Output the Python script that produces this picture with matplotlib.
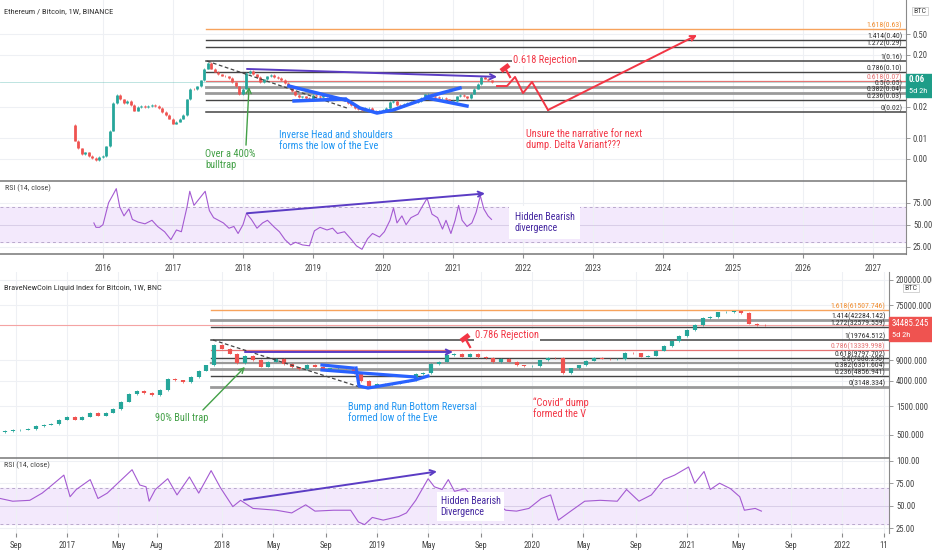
import numpy as np
import matplotlib
matplotlib.use('Agg')
import matplotlib.pyplot as plt
from matplotlib import font_manager
from matplotlib.lines import Line2D
from matplotlib.patches import Rectangle

W, H = 932, 550

# narrow font if there is one, else DejaVu
names = {f.name for f in font_manager.fontManager.ttflist}
fam = 'DejaVu Sans'
for cand in ['Liberation Sans Narrow', 'DejaVu Sans Condensed', 'Roboto Condensed', 'Liberation Sans']:
    if cand in names:
        fam = cand
        break
plt.rcParams['font.family'] = [fam, 'DejaVu Sans']

# ---------------- data ----------------
# ETH/BTC closes, every 0.05 year from 2015.60
eth_start = 2015.60
eth_first_open = 0.0090
eth_close = [
    0.0045, 0.0032, 0.0025, 0.0027, 0.0023, 0.0021, 0.0019, 0.0022,
    0.0023, 0.0035, 0.0070, 0.0240, 0.0340, 0.0280, 0.0240, 0.0260, 0.0220, 0.0170,
    0.0200, 0.0210, 0.0200, 0.0210, 0.0220, 0.0210, 0.0190, 0.0160, 0.0140, 0.0120,
    0.0095, 0.0105, 0.0120, 0.0140, 0.0280, 0.0450, 0.0440, 0.0500, 0.0650, 0.1100,
    0.1400, 0.1100, 0.0950, 0.0850, 0.0800, 0.0780, 0.0720, 0.0600, 0.0500, 0.0350,
    0.0450, 0.0900, 0.1000, 0.0850, 0.0750, 0.0600, 0.0680, 0.0780, 0.0820, 0.0760,
    0.0720, 0.0660, 0.0580, 0.0500, 0.0400, 0.0340, 0.0310, 0.0320, 0.0300, 0.0290,
    0.0340, 0.0330, 0.0310, 0.0340, 0.0320, 0.0300, 0.0290, 0.0300, 0.0290, 0.0270,
    0.0240, 0.0220, 0.0190, 0.0180, 0.0175, 0.0190, 0.0190, 0.0170, 0.0165, 0.0170,
    0.0175, 0.0190, 0.0250, 0.0260, 0.0220, 0.0210, 0.0230, 0.0240, 0.0250, 0.0250,
    0.0260, 0.0300, 0.0350, 0.0360, 0.0330, 0.0310, 0.0300, 0.0300, 0.0280, 0.0250,
    0.0260, 0.0320, 0.0340, 0.0320, 0.0300, 0.0360, 0.0450, 0.0550, 0.0750, 0.0700,
    0.0650, 0.0600,
]
eth_last = 0.06

eth_rsi_dates = [
    2015.87, 2015.90, 2015.95, 2016.00, 2016.08, 2016.15, 2016.19, 2016.24, 2016.30, 2016.37,
    2016.42, 2016.50, 2016.60, 2016.70, 2016.78, 2016.88, 2016.97, 2017.05, 2017.12, 2017.20,
    2017.24, 2017.30, 2017.38, 2017.46, 2017.52, 2017.58, 2017.65, 2017.72, 2017.80, 2017.87,
    2017.93, 2018.00, 2018.05, 2018.12, 2018.20, 2018.28, 2018.35, 2018.45, 2018.52, 2018.60,
    2018.68, 2018.75, 2018.85, 2018.95, 2019.02, 2019.10, 2019.20, 2019.28, 2019.35, 2019.45,
    2019.55, 2019.62, 2019.70, 2019.78, 2019.85, 2019.95, 2020.02, 2020.10, 2020.15, 2020.20,
    2020.27, 2020.33, 2020.40, 2020.50, 2020.57, 2020.63, 2020.70, 2020.78, 2020.85, 2020.90,
    2020.97, 2021.03, 2021.08, 2021.13, 2021.20, 2021.27, 2021.33, 2021.39, 2021.44, 2021.50,
    2021.55,
]
eth_rsi = [
    52, 47, 47, 50, 75, 85, 91, 70, 60, 68,
    56, 53, 51, 55, 48, 42, 33, 44, 42, 70,
    88, 72, 80, 88, 66, 58, 55, 52, 46, 48,
    40, 50, 63, 56, 46, 52, 55, 47, 42, 33,
    27, 30, 27, 26, 43, 47, 44, 46, 40, 42,
    33, 26, 22, 34, 40, 36, 42, 55, 69, 52,
    60, 50, 58, 62, 72, 80, 62, 58, 45, 55,
    40, 55, 72, 55, 48, 52, 64, 83, 68, 60,
    56,
]

eth_fib_ratio = ['0', '0.236', '0.382', '0.5', '0.618', '0.786', '1', '1.272', '1.414', '1.618']
eth_fib_value = [0.0158, 0.0272, 0.0379, 0.0495, 0.0646, 0.0944, 0.155, 0.285, 0.395, 0.625]
eth_fib_text = ['0.02', '0.03', '0.04', '0.05', '0.07', '0.10', '0.16', '0.29', '0.40', '0.63']
eth_fib_start = 2017.47

# BNC Bitcoin closes, every 0.05 year from 2016.60
btc_start = 2016.60
btc_first_open = 560
btc_close = [
    580, 600, 610, 630, 700, 740, 760, 900,
    1000, 900, 1010, 1180, 1050, 1180, 1350, 1800, 2400, 2700,
    2500, 2300, 2800, 4300, 4100, 3800, 4700, 6000, 7300, 16000,
    14000, 11500, 8000, 10500, 9000, 7000, 8500, 9300, 7800, 6800,
    6300, 7400, 7000, 6300, 6500, 6600, 6500, 5500, 4000, 3300,
    3600, 3500, 3600, 3900, 4100, 5200, 5500, 7800, 8500, 11000,
    11500, 10300, 11300, 10200, 9700, 8300, 9300, 8500, 7300, 7200,
    7200, 8900, 9800, 9700, 5400, 6500, 7300, 8800, 9700, 9500,
    9200, 9300, 11700, 11600, 10300, 10700, 13000, 15500, 18500, 23000,
    29000, 35000, 46000, 48000, 57000, 58000, 59000, 56000, 37000, 35000,
    34500,
]
btc_last = 34485.245

btc_rsi_dates = [
    2016.57, 2016.65, 2016.76, 2016.84, 2016.89, 2016.98, 2017.02, 2017.06, 2017.15, 2017.20,
    2017.26, 2017.42, 2017.47, 2017.51, 2017.53, 2017.57, 2017.65, 2017.71, 2017.79, 2017.85,
    2017.93, 2017.99, 2018.07, 2018.12, 2018.20, 2018.35, 2018.45, 2018.54, 2018.60, 2018.72,
    2018.83, 2018.88, 2018.92, 2018.97, 2019.04, 2019.14, 2019.19, 2019.25, 2019.33, 2019.37,
    2019.42, 2019.46, 2019.50, 2019.57, 2019.63, 2019.75, 2019.83, 2019.90, 2019.98, 2020.06,
    2020.12, 2020.17, 2020.25, 2020.34, 2020.44, 2020.55, 2020.61, 2020.69, 2020.77, 2020.85,
    2020.92, 2021.01, 2021.05, 2021.11, 2021.15, 2021.21, 2021.28, 2021.34, 2021.37, 2021.44,
    2021.48,
]
btc_rsi = [
    58, 55, 56, 64, 71, 84, 60, 68, 79, 58,
    64, 90, 73, 71, 55, 68, 80, 62, 82, 64,
    89, 70, 49, 56, 47, 45, 42, 51, 44, 45,
    45, 32, 29, 37, 34, 38, 42, 56, 80, 71,
    68, 79, 66, 69, 56, 56, 45, 44, 47, 58,
    62, 34, 44, 55, 56, 55, 68, 55, 62, 79,
    84, 93, 75, 88, 68, 75, 69, 60, 45, 47,
    44,
]

btc_fib_ratio = eth_fib_ratio
btc_fib_value = [3148.334, 4856.941, 6351.604, 7888.290, 9797.702, 13339.998,
                 19764.512, 32579.559, 42284.142, 61507.746]
btc_fib_start = 2017.93

eth_year_ticks = list(range(2016, 2028))
btc_tick_dates = [2016.67, 2017.0, 2017.33, 2017.58, 2018.0, 2018.33, 2018.67, 2019.0, 2019.33,
                  2019.67, 2020.0, 2020.33, 2020.67, 2021.0, 2021.33, 2021.67, 2022.0, 2022.27]
btc_tick_labels = ['Sep', '2017', 'May', 'Aug', '2018', 'May', 'Sep', '2019', 'May', 'Sep',
                   '2020', 'May', 'Sep', '2021', 'May', 'Sep', '2022', '11']

# ---------------- colours ----------------
UP, DOWN = '#26a69a', '#ef5350'
PURPLE, RSI_C = '#5b3cc4', '#a45ad2'
BLUE, BLUE_T = '#2962ff', '#2196f3'
GREEN, RED = '#43a047', '#f23645'
GRID = '#eef0f4'
TXT = '#444444'
FS = 7.5

fig = plt.figure(figsize=(W / 100, H / 100), dpi=100)


def px_axes(left, top, right, bottom):
    return fig.add_axes([left / W, 1 - bottom / H, (right - left) / W, (bottom - top) / H])


def style(ax):
    for s in ['left', 'top', 'bottom']:
        ax.spines[s].set_visible(False)
    ax.spines['right'].set_color('#8a8a8a')
    ax.spines['right'].set_linewidth(0.8)
    ax.yaxis.tick_right()
    ax.tick_params(axis='y', labelsize=6.2, colors='#8a8a8a', labelcolor=TXT,
                   length=3, width=0.6, pad=2)
    ax.grid(True, color=GRID, lw=0.8)
    ax.set_axisbelow(True)


def candles(ax, start, first_open, close, width):
    close = np.array(close)
    dates = start + np.arange(len(close)) * 0.05
    opens = np.r_[first_open, close[:-1]]
    cols = [UP if c >= o else DOWN for o, c in zip(opens, close)]
    ax.vlines(dates, opens, close, colors=cols, lw=width)
    ax.vlines(dates, np.minimum(opens, close) * 0.97, np.maximum(opens, close) * 1.03,
              colors=cols, lw=0.5)


def fibs(ax, start, values, ratios, texts, styles, label_colors):
    for v, r, t, (c, lw), lc in zip(values, ratios, texts, styles, label_colors):
        ax.plot([start, ax.get_xlim()[1]], [v, v], color=c, lw=lw, zorder=2)
        ax.text(0.996, v, f'{r}({t})', transform=ax.get_yaxis_transform(), ha='right',
                va='bottom', fontsize=5.6, color=lc, zorder=3)


def rsi_panel(ax, dates, vals):
    ax.axhspan(30, 70, color='#f3e9fc', zorder=0)
    for lvl in (30, 70):
        ax.axhline(lvl, color='#b9a9cc', lw=0.7, ls=(0, (3, 3)))
    ax.axhline(50, color='#d9cde8', lw=0.7)
    ax.plot(dates, vals, color=RSI_C, lw=0.8, zorder=3)
    ax.text(0.005, 0.87, 'RSI (14, close)', transform=ax.transAxes, fontsize=5.8, color=TXT)


def hammer(ax, x, y):
    px, py = ax.transData.transform((x, y))
    inv = fig.transFigure.inverted()
    head = inv.transform([(px - 4, py - 3), (px + 4, py + 3)])
    handle = inv.transform([(px, py), (px + 5, py - 9)])
    fig.add_artist(Line2D(handle[:, 0], handle[:, 1], color=RED, lw=1.6, transform=fig.transFigure))
    fig.add_artist(Line2D(head[:, 0], head[:, 1], color=RED, lw=3.5, transform=fig.transFigure,
                          solid_capstyle='butt'))


def arrow(ax, p0, p1, color, lw):
    ax.annotate('', xy=p1, xytext=p0,
                arrowprops=dict(arrowstyle='->', color=color, lw=lw, shrinkA=0, shrinkB=0,
                                mutation_scale=9), zorder=5)


white = dict(facecolor='white', edgecolor='none', pad=1)

# ================= ETH / BTC =================
ax_eth = px_axes(0, 0, 906, 181)
ax_ersi = px_axes(0, 181, 906, 254.5)
for ax in (ax_eth, ax_ersi):
    style(ax)
    ax.set_xlim(2014.529, 2027.471)
    ax.set_xticks(eth_year_ticks)
ax_eth.tick_params(axis='x', length=0, labelbottom=False)
ax_ersi.tick_params(axis='x', labelsize=6.2, labelcolor=TXT, colors='#8a8a8a', length=3, pad=4)
ax_ersi.set_xticklabels([str(y) for y in eth_year_ticks])

ax_eth.set_yscale('log')
ax_eth.set_ylim(0.000755, 2.284)
ax_eth.set_yticks([0.5, 0.2, 0.02, 0.005, 0.002], ['0.50', '0.20', '0.02', '0.01', '0.00'])
ax_eth.minorticks_off()

ax_eth.axhline(eth_last, color=UP, lw=0.6, alpha=0.35)
fibs(ax_eth, eth_fib_start, eth_fib_value, eth_fib_ratio, eth_fib_text,
     [('#444', 1.1), ('#444', 1.0), ('#9a9a9a', 2.0), ('#9a9a9a', 2.0), ('#e57373', 0.9),
      ('#444', 1.0), ('#444', 1.1), ('#444', 1.0), ('#444', 1.0), ('#f7a35c', 1.0)],
     ['#333'] * 4 + ['#e57373'] + ['#333'] * 4 + ['#f08c2e'])
candles(ax_eth, eth_start, eth_first_open, eth_close, 2.0)

# drawings
ax_eth.plot([2017.486, 2019.486], [0.153, 0.0191], color='#444', lw=0.9, ls=(0, (3, 2)), zorder=4)
arrow(ax_eth, (2018.057, 0.1078), (2021.63, 0.076), PURPLE, 1.4)
ax_eth.plot([2018.657, 2019.457], [0.0506, 0.0273], color=BLUE, lw=2.5, zorder=4)
ax_eth.plot([2018.729, 2019.457], [0.0261, 0.0285], color=BLUE, lw=2.5, zorder=4)
ax_eth.plot([2019.486, 2019.671, 2019.914, 2020.143, 2020.429, 2020.629],
            [0.0273, 0.0191, 0.0153, 0.0175, 0.0239, 0.0298], color=BLUE, lw=2.5, zorder=4)
ax_eth.plot([2020.629, 2021.10], [0.0311, 0.0464], color=BLUE, lw=2.5, zorder=4)
ax_eth.plot([2020.629, 2021.20], [0.0298, 0.0209], color=BLUE, lw=2.5, zorder=4)
arrow(ax_eth, (2018.043, 0.0037), (2018.086, 0.0485), GREEN, 1.0)
ax_eth.text(2017.457, 0.00311, 'Over a 400%\nbulltrap', color=GREEN, fontsize=FS, va='top',
            linespacing=1.15)
ax_eth.text(2018.514, 0.00721, 'Inverse Head and shoulders\nforms the low of the Eve',
            color=BLUE_T, fontsize=FS, va='top', linespacing=1.15)
zz_x = [2021.629, 2021.771, 2021.886, 2022.0, 2022.129, 2022.357]
zz_y = [0.0506, 0.0506, 0.0757, 0.0371, 0.0605, 0.0175]
ax_eth.plot(zz_x, zz_y, color=RED, lw=1.4, zorder=5)
arrow(ax_eth, (2022.357, 0.0175), (2024.486, 0.483), RED, 1.4)
ax_eth.text(2021.857, 0.161, '0.618 Rejection', color=RED, fontsize=FS, va='center', bbox=white,
            zorder=6)
ax_eth.text(2022.043, 0.00755, 'Unsure the narrative for next\ndump. Delta Variant???',
            color=RED, fontsize=FS, va='top', linespacing=1.15)

rsi_panel(ax_ersi, eth_rsi_dates, eth_rsi)
ax_ersi.set_ylim(16.1, 99.7)
ax_ersi.set_yticks([75, 50, 25], ['75.00', '50.00', '25.00'])
for s in ('top', 'bottom'):
    ax_ersi.spines[s].set_visible(True)
    ax_ersi.spines[s].set_color('#777')
    ax_ersi.spines[s].set_linewidth(1.1)
arrow(ax_ersi, (2018.057, 63), (2021.457, 85.5), PURPLE, 1.4)
ax_ersi.text(2021.88, 52.5, 'Hidden Bearish\ndivergence', color='#4527a0', fontsize=7.2,
             va='center', linespacing=1.2,
             bbox=dict(facecolor='white', edgecolor='none', pad=4), zorder=6)

# ================= BNC Bitcoin =================
ax_btc = px_axes(0, 272, 889, 458)
ax_brsi = px_axes(0, 458, 889, 533)
for ax in (ax_btc, ax_brsi):
    style(ax)
    ax.set_xlim(2016.568, 2022.303)
    ax.set_xticks(btc_tick_dates)
ax_btc.tick_params(axis='x', length=0, labelbottom=False)
ax_brsi.tick_params(axis='x', labelsize=6.2, labelcolor=TXT, colors='#8a8a8a', length=3, pad=3)
ax_brsi.set_xticklabels(btc_tick_labels)

ax_btc.set_yscale('log')
ax_btc.set_ylim(203, 271600)
ax_btc.set_yticks([200000, 75000, 9000, 4000, 1500, 500],
                  ['200000.000', '75000.000', '9000.000', '4000.000', '1500.000', '500.000'])
ax_btc.minorticks_off()

ax_btc.axhline(btc_last, color='#f4a3a3', lw=0.8)
fibs(ax_btc, btc_fib_start, btc_fib_value, btc_fib_ratio, [f'{v:.3f}' for v in btc_fib_value],
     [('#9a9a9a', 2.0), ('#444', 1.0), ('#9a9a9a', 2.0), ('#9a9a9a', 1.6), ('#444', 1.0),
      ('#e57373', 0.9), ('#444', 1.1), ('#444', 1.0), ('#9a9a9a', 2.0), ('#f7a35c', 1.0)],
     ['#333'] * 5 + ['#e57373'] + ['#333'] * 3 + ['#f08c2e'])
candles(ax_btc, btc_start, btc_first_open, btc_close, 3.0)

ax_btc.plot([2017.942, 2018.890], [19560, 3160], color='#444', lw=0.9, ls=(0, (3, 2)), zorder=4)
arrow(ax_btc, (2018.148, 12290), (2019.49, 12290), PURPLE, 1.4)
ax_btc.plot([2018.645, 2018.845], [7427, 6610], color=BLUE, lw=2.3, zorder=4)
ax_btc.plot([2018.645, 2019.245], [6123, 4670], color=BLUE, lw=2.3, zorder=4)
ax_btc.plot([2018.865, 2018.884, 2018.942, 2019.245, 2019.329],
            [6610, 3289, 3047, 4156, 4844], color=BLUE, lw=2.3, zorder=4)
arrow(ax_btc, (2017.877, 1302), (2018.148, 6877), GREEN, 1.0)
ax_btc.text(2017.568, 957, '90% Bull trap', color=GREEN, fontsize=FS, va='center')
ax_btc.text(2018.813, 1775, 'Bump and Run Bottom Reversal\nformed low of the Eve',
            color=BLUE_T, fontsize=FS, va='top', linespacing=1.15)
ax_btc.text(2019.632, 23700, '0.786 Rejection', color=RED, fontsize=FS, va='center', bbox=white,
            zorder=6)
ax_btc.text(2020.006, 2153, '\u201cCovid\u201d dump\nformed the V', color=RED, fontsize=FS,
            va='top', linespacing=1.15)

rsi_panel(ax_brsi, btc_rsi_dates, btc_rsi)
ax_brsi.set_ylim(19.7, 103)
ax_brsi.set_yticks([100, 75, 50, 25], ['100.00', '75.00', '50.00', '25.00'])
ax_brsi.spines['top'].set_visible(True)
ax_brsi.spines['top'].set_color('#777')
ax_brsi.spines['top'].set_linewidth(1.1)
arrow(ax_brsi, (2018.142, 56.5), (2019.387, 88), PURPLE, 1.4)
ax_brsi.text(2019.41, 49, 'Hidden Bearish\nDivergence', color='#4527a0', fontsize=7.2,
             va='center', linespacing=1.2,
             bbox=dict(facecolor='white', edgecolor='none', pad=2.5), zorder=6)

# hammers need final transforms
hammer(ax_eth, 2021.743, 0.1125)
hammer(ax_btc, 2019.568, 21130)

# ---------------- header texts and price badges ----------------
fig.text(4 / W, 1 - 11 / H, 'Ethereum / Bitcoin, 1W, BINANCE', fontsize=6, color='#333',
         va='center')
fig.text(4 / W, 1 - 288 / H, 'BraveNewCoin Liquid Index for Bitcoin, 1W, BNC', fontsize=6,
         color='#333', va='center')
fig.text(920 / W, 1 - 11 / H, 'BTC', fontsize=5.8, color=TXT, ha='center', va='center',
         bbox=dict(facecolor='white', edgecolor='#ccc', pad=1, lw=0.6))
fig.text(911 / W, 1 - 288 / H, 'BTC', fontsize=5.8, color=TXT, ha='center', va='center',
         bbox=dict(facecolor='white', edgecolor='#ccc', pad=1, lw=0.6))

fig.add_artist(Rectangle((906 / W, 1 - 97 / H), 26 / W, 23 / H, color='#1e9d88',
                         transform=fig.transFigure))
fig.text(909 / W, 1 - 80 / H, f'{eth_last:.2f}', fontsize=6.5, color='white', va='center',
         weight='bold')
fig.text(909 / W, 1 - 91 / H, '5d 2h', fontsize=6, color='white', va='center')
fig.add_artist(Rectangle((889 / W, 1 - 341 / H), 43 / W, 24 / H, color='#ef5350',
                         transform=fig.transFigure))
fig.text(892 / W, 1 - 323 / H, f'{btc_last:.3f}', fontsize=6.3, color='white', va='center')
fig.text(892 / W, 1 - 335 / H, '5d 2h', fontsize=6, color='white', va='center')

fig.savefig('out.png', dpi=100)
